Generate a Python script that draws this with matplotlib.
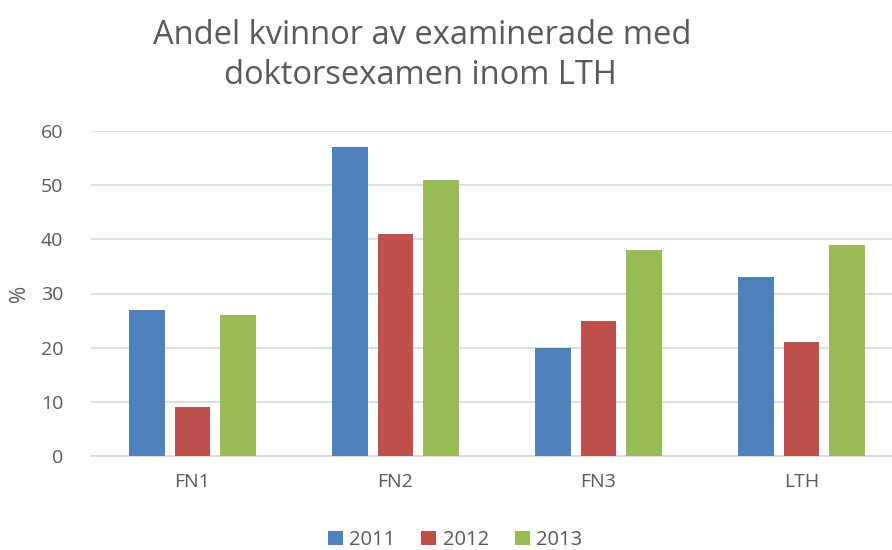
import numpy as np
import matplotlib.pyplot as plt

plt.rcParams['font.family'] = ['Open Sans', 'DejaVu Sans']

kategorier = ['FN1', 'FN2', 'FN3', 'LTH']
ar = ['2011', '2012', '2013']
v2011 = [27, 57, 20, 33]
v2012 = [9, 41, 25, 21]
v2013 = [26, 51, 38, 39]
farger = ['#4F81BD', '#C0504D', '#9BBB59']
grå = '#595959'

fig = plt.figure(figsize=(8.92, 5.5), dpi=100)
# axeln fortsatter lite utanfor bilden till hoger (som i originalet)
ax = fig.add_axes([91/892, 94/550, 812/892, 325/550])

x = np.arange(len(kategorier))
bredd = 0.177
steg = 0.222
for i, (serie, f) in enumerate(zip([v2011, v2012, v2013], farger)):
    ax.bar(x + (i - 1) * steg, serie, bredd, color=f, label=ar[i], zorder=3)

ax.set_xlim(-0.5, len(kategorier) - 0.5)
ax.set_ylim(0, 60)
ax.set_yticks(range(0, 61, 10))
ax.set_xticks(x)
ax.set_xticklabels(kategorier)
ax.yaxis.grid(True, color='#D9D9D9', linewidth=1.2, zorder=0)
for s in ['top', 'right', 'left']:
    ax.spines[s].set_visible(False)
ax.spines['bottom'].set_color('#D9D9D9')
ax.spines['bottom'].set_linewidth(1.2)
ax.tick_params(length=0, labelsize=14, colors=grå, pad=12)
ax.tick_params(axis='y', pad=20)
fig.text(20/892, 1 - 293/550, '%', rotation=90, ha='center', va='center',
         fontsize=15, color=grå)

fig.text(422/892, 1 - 36/550, 'Andel kvinnor av examinerade med', ha='center', va='center',
         fontsize=23.5, color=grå)
fig.text(420/892, 1 - 76/550, 'doktorsexamen inom LTH', ha='center', va='center',
         fontsize=23.5, color=grå)

fig.legend(loc='center', bbox_to_anchor=(455/892, 1 - 540/550), ncol=3, frameon=False,
           fontsize=14.5, labelcolor=grå, handlelength=0.75, handleheight=0.75,
           handletextpad=0.3, columnspacing=1.3)

fig.savefig('out.png', dpi=100)
